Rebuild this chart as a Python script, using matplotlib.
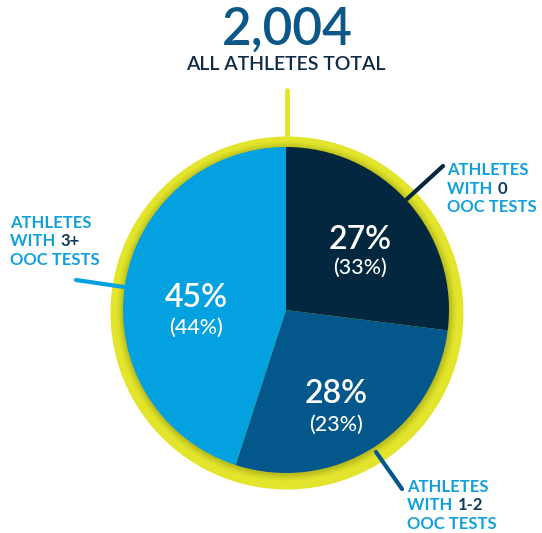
import numpy as np
import matplotlib.pyplot as plt
from matplotlib.patches import Circle

# data
total_label = '2,004'
subtitle = 'ALL ATHLETES TOTAL'
groups = ['0', '1-2', '3+']
share = [27, 28, 45]
share_prev = [33, 23, 44]
colors = ['#03273f', '#04578a', '#04a1e0']

W, H = 542, 533
fig = plt.figure(figsize=(W / 100, H / 100), dpi=100)
ax = fig.add_axes([0, 0, 1, 1])

def Y(y):
    return H - y

font = 'Lato'
label_blue = '#12a0dc'
yellow = '#e2e52c'

# stem line on top
ax.plot([287, 287], [Y(90), Y(150)], color=yellow, lw=3.5, solid_capstyle='round', zorder=1)

# yellow ring with inner shadow
cx, cy = 287, Y(313)
ax.add_patch(Circle((cx, cy), 176.5, color=yellow, zorder=2, lw=0))
for k, r in enumerate(np.linspace(170, 164, 5)):
    ax.add_patch(Circle((286.5, Y(311)), r, color='#8a8a10', alpha=0.05 + 0.03 * k, zorder=2, lw=0))

# pie
pcx, pcy, pr = 286, Y(310), 163
ax.pie(share, colors=colors, startangle=90, counterclock=False, radius=pr,
       center=(pcx, pcy), wedgeprops=dict(linewidth=0, zorder=3), frame=True)
ax.set_xlim(0, W)
ax.set_ylim(0, H)
ax.set_aspect('equal')
ax.axis('off')

# leader lines
ax.plot([443, 407], [Y(166), Y(199)], color='#03273f', lw=3, solid_capstyle='round', zorder=5)
ax.plot([376, 402], [Y(452), Y(489)], color='#04578a', lw=3, solid_capstyle='round', zorder=5)
ax.plot([76, 124], [Y(280), Y(287)], color='#04a1e0', lw=3, solid_capstyle='round', zorder=5)

# title
ax.text(287, Y(30), total_label, ha='center', va='center', fontsize=37, color='#0b5788',
        family=font, fontweight='semibold')
ax.text(286, Y(64), subtitle, ha='center', va='center', fontsize=14, color='#0f2a44',
        family=font, fontweight='semibold')

# percentages inside slices
pct_pos = [(360, 240, 268), (336, 394, 425), (196, 298, 328)]
for (x, y1, y2), s, p in zip(pct_pos, share, share_prev):
    ax.text(x, Y(y1), f'{s}%', ha='center', va='center', fontsize=23, color='white',
            family=font, fontweight='semibold', zorder=6)
    ax.text(x, Y(y2), f'({p}%)', ha='center', va='center', fontsize=15.5, color='white',
            family=font, fontweight='medium', zorder=6)

# group labels
fig.canvas.draw()
renderer = fig.canvas.get_renderer()
label_pos = [(447, 170), (407, 487), (10, 223)]
step = 18.5
for (x, y), g in zip(label_pos, groups):
    kw = dict(ha='left', va='center', fontsize=12, family=font, fontweight='bold', zorder=6)
    ax.text(x, Y(y), 'ATHLETES', color=label_blue, **kw)
    t = ax.text(x, Y(y + step), 'WITH ', color=label_blue, **kw)
    bb = t.get_window_extent(renderer)
    ax.text(bb.x1 + 1, Y(y + step), g, color='#0f3a5c', **kw)
    ax.text(x, Y(y + 2 * step), 'OOC TESTS', color=label_blue, **kw)

fig.savefig('out.png', dpi=100)
